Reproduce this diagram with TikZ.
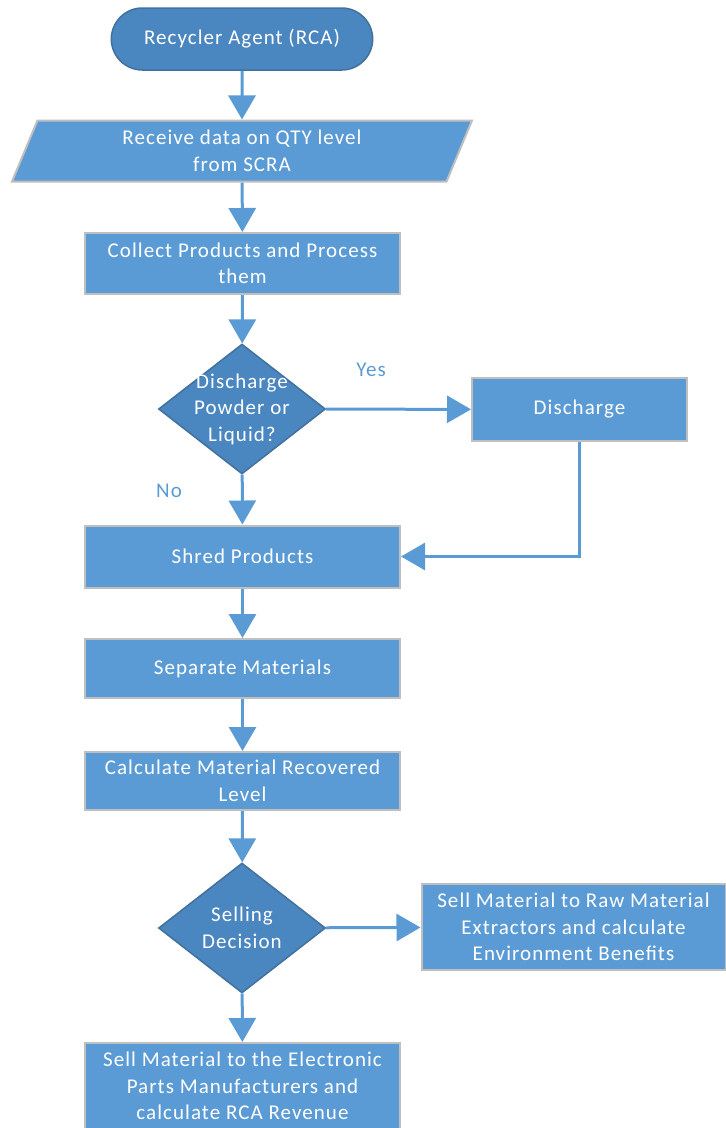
\documentclass[tikz,border=0pt]{standalone}
\usepackage{fontspec}
\setmainfont[LetterSpace=5]{Carlito}
\usepackage{tikz}
\usetikzlibrary{shapes,arrows.meta,positioning,calc}
\definecolor{boxblue}{RGB}{91,155,213}
\definecolor{darkblue}{RGB}{74,134,192}
\definecolor{edgeblue}{RGB}{65,113,156}
\definecolor{boxgray}{RGB}{191,191,191}

\begin{document}
\begin{tikzpicture}[x=1pt,y=-1pt]

        \tikzstyle{every node}=[font=\fontsize{21}{26.5}\selectfont, text=white, align=center]
        \tikzstyle{proc}=[draw=boxgray, line width=2pt, fill=boxblue, minimum width=315pt, minimum height=61pt]
        \tikzstyle{term}=[rounded rectangle, draw=edgeblue, line width=1.5pt, fill=darkblue, minimum width=268pt, minimum height=62pt]
        \tikzstyle{io}=[trapezium, trapezium left angle=62, trapezium right angle=118, trapezium stretches body, draw=boxgray, line width=2pt, fill=boxblue, minimum width=460pt, minimum height=61pt]
        \tikzstyle{decision}=[diamond, draw=edgeblue, line width=1.5pt, fill=darkblue, minimum width=167pt, minimum height=130pt, inner sep=0pt]
        \tikzstyle{answer}=[text=boxblue]
        \tikzstyle{flow}=[draw=boxblue, line width=3pt, -{Triangle[width=27pt,length=24pt]}]
        \useasboundingbox (0,0) rectangle (726,1128);

        \node[term] (rca) at (242,39) {Recycler Agent (RCA)};
        \node[io] (recv) at (242,151) {Receive data on QTY level\\from SCRA};
        \node[proc] (collect) at (242.5,263.5) {Collect Products and Process\\them};
        \node[decision, label={center:{Discharge\\Powder or\\Liquid?}}] (powder) at (242,409) {};
        \node[proc, minimum width=215pt, minimum height=63pt] (discharge) at (579.5,409.5) {Discharge};
        \node[proc, minimum height=62pt] (shred) at (242.5,556.5) {Shred Products};
        \node[proc, minimum height=59pt] (separate) at (242.5,668.5) {Separate Materials};
        \node[proc, minimum height=58pt] (recovered) at (242.5,781) {Calculate Material Recovered\\Level};
        \node[decision, label={center:{Selling\\Decision}}] (selling) at (242,928) {};
        \node[proc, minimum width=304pt, minimum height=86pt] (extractors) at (573.5,927) {Sell Material to Raw Material\\Extractors and calculate\\Environment Benefits};
        \node[proc, minimum height=86pt] (manufacturers) at (242.5,1086) {Sell Material to the Electronic\\Parts Manufacturers and\\calculate RCA Revenue};
        \node[answer] (yes) at (371,370) {Yes};
        \node[answer] (no) at (169,491) {No};

        \draw[flow] (rca) -- (recv);
        \draw[flow] (recv) -- (collect);
        \draw[flow] (collect) -- (powder);
        \draw[flow] (powder) -- (discharge);
        \draw[flow] (powder) -- (shred);
        \draw[flow] (discharge.south) |- (shred.east);
        \draw[flow] (shred) -- (separate);
        \draw[flow] (separate) -- (recovered);
        \draw[flow] (recovered) -- (selling);
        \draw[flow] (selling) -- (extractors);
        \draw[flow] (selling) -- (manufacturers);
      \end{tikzpicture}
\end{document}
